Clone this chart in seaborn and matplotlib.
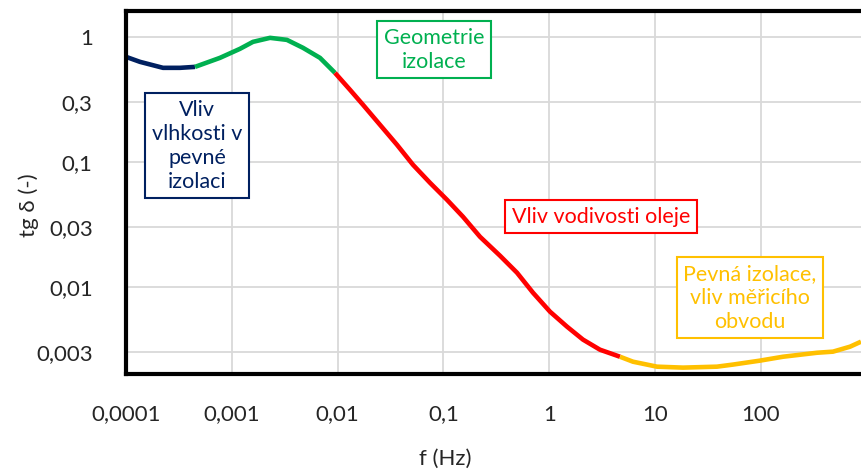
import matplotlib
matplotlib.use("Agg")
import matplotlib.pyplot as plt
import seaborn as sns
import pandas as pd

# frekvence (Hz) a tg delta pro jednotlive oblasti krivky
f_vlhkost = [1.0e-4, 1.355e-4, 2.24e-4, 3.24e-4, 4.49e-4]
tg_vlhkost = [0.692, 0.631, 0.565, 0.565, 0.575]

f_geometrie = [4.49e-4, 7.73e-4, 1.195e-3, 1.586e-3, 2.30e-3, 3.32e-3, 4.71e-3, 6.82e-3, 9.45e-3]
tg_geometrie = [0.575, 0.679, 0.802, 0.912, 0.982, 0.946, 0.817, 0.679, 0.515]

f_vodivost = [9.45e-3, 0.0131, 0.01738, 0.02517, 0.03642, 0.0516, 0.0747, 0.108, 0.1532,
              0.2218, 0.3428, 0.4963, 0.7029, 1.018, 1.473, 2.087, 3.021, 4.67]
tg_vodivost = [0.515, 0.377, 0.286, 0.1977, 0.1368, 0.0946, 0.0679, 0.0497, 0.0363,
               0.0251, 0.0177, 0.01294, 0.00895, 0.00631, 0.00479, 0.00377, 0.00313, 0.00275]

f_pevna = [4.67, 6.19, 10.44, 18.4, 38.5, 54.6, 98.3, 162, 340, 481, 697, 885]
tg_pevna = [0.00275, 0.00251, 0.00229, 0.00225, 0.00229, 0.00238, 0.00256, 0.00275,
            0.00296, 0.00302, 0.00331, 0.00363]

x_ticks = [0.0001, 0.001, 0.01, 0.1, 1, 10, 100]
x_labels = ["0,0001", "0,001", "0,01", "0,1", "1", "10", "100"]
y_ticks = [0.003, 0.01, 0.03, 0.1, 0.3, 1]
y_labels = ["0,003", "0,01", "0,03", "0,1", "0,3", "1"]

popisky = ["Vliv\nvlhkosti v\npevné\nizolaci", "Geometrie\nizolace",
           "Vliv vodivosti oleje", "Pevná izolace,\nvliv měřicího\nobvodu"]
popisky_f = [4.69e-4, 0.0815, 3.09, 79]
popisky_tg = [0.134, 0.787, 0.0363, 0.00817]

barvy = {"vlhkost": "#002060", "geometrie": "#00B050",
         "vodivost": "#FF0000", "pevna": "#FFC000"}

df = pd.concat([
    pd.DataFrame({"f": f_vlhkost, "tg": tg_vlhkost, "oblast": "vlhkost"}),
    pd.DataFrame({"f": f_geometrie, "tg": tg_geometrie, "oblast": "geometrie"}),
    pd.DataFrame({"f": f_vodivost, "tg": tg_vodivost, "oblast": "vodivost"}),
    pd.DataFrame({"f": f_pevna, "tg": tg_pevna, "oblast": "pevna"}),
], ignore_index=True)

sns.set_style("white")
plt.rcParams['font.family'] = ['Lato', 'DejaVu Sans']

fig = plt.figure(figsize=(8.61, 4.75), dpi=100)
ax = fig.add_axes([0.1463, 0.2126, 0.8537, 0.7642])
ax.set_xscale("log")
ax.set_yscale("log")

sns.lineplot(data=df, x="f", y="tg", hue="oblast", palette=barvy,
             estimator=None, sort=False, linewidth=3.3, legend=False, ax=ax)
for line in ax.get_lines():
    line.set_solid_joinstyle("round")
    line.set_solid_capstyle("butt")

ax.set_xlim(1e-4, 885)
ax.set_ylim(0.002, 1.61)
ax.set_xticks(x_ticks)
ax.set_xticklabels(x_labels)
ax.set_yticks(y_ticks)
ax.set_yticklabels(y_labels)
ax.minorticks_off()
ax.grid(True, color="#D9D9D9", linewidth=1.3)
ax.set_axisbelow(True)

ax.tick_params(axis="x", direction="in", length=5, width=1.3, color="black",
               labelsize=16, pad=22, top=False)
ax.tick_params(axis="y", direction="in", length=5, width=1.3, color="black",
               labelsize=16, pad=24)

for side in ["left", "bottom", "top"]:
    ax.spines[side].set_color("black")
    ax.spines[side].set_linewidth(3)
ax.spines["right"].set_visible(False)

ax.set_xlabel("f (Hz)", fontsize=16)
ax.set_ylabel("tg δ (-)", fontsize=16)
ax.xaxis.set_label_coords(0.434, -0.205)
ax.yaxis.set_label_coords(-0.118, 0.465)

for text, fx, ty, key in zip(popisky, popisky_f, popisky_tg, barvy):
    ax.text(fx, ty, text, color=barvy[key], fontsize=15.5, ha="center", va="center",
            linespacing=1.25,
            bbox=dict(boxstyle="square,pad=0.3", fc="white", ec=barvy[key], lw=1.5))

fig.savefig("out.png", dpi=100)
